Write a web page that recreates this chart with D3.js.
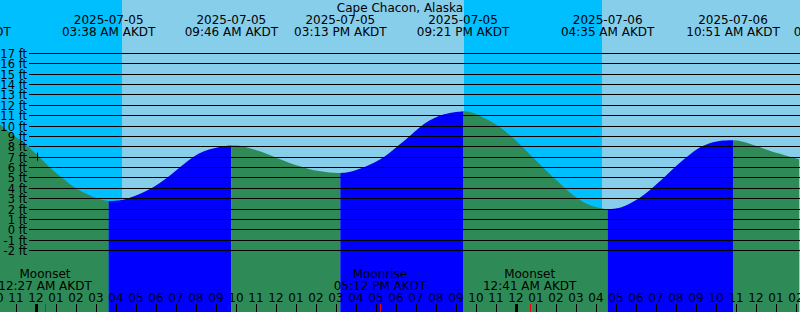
<!DOCTYPE html>
<html>
<head>
<meta charset="utf-8">
<script src="https://cdn.jsdelivr.net/npm/d3@7"></script>
<style>
  body { margin: 0; background: #fff; }
  svg { display: block; font-family: "DejaVu Sans", sans-serif; font-size: 12px; }
  .feet { font-size: 11.5px; }
</style>
</head>
<body>
<svg class="svg-tide"></svg>
<script>
// hours are counted from 2025-07-05 00:00 AKDT
const title = "Cape Chacon, Alaska"

// water level (hour, feet)
const tideHours = [-1.85, -1.35, -0.85, -0.35, 0.15, 0.65, 1.15, 1.65, 2.15, 2.65, 3.15, 3.633, 4.15, 4.65, 5.15, 5.65,
  6.15, 6.65, 7.15, 7.65, 8.15, 8.65, 9.15, 9.767, 10.15, 10.65, 11.15, 11.65, 12.15, 12.65, 13.15, 13.65, 14.15, 14.65,
  15.217, 15.65, 16.15, 16.65, 17.15, 17.65, 18.15, 18.65, 19.15, 19.65, 20.15, 20.65, 21.35, 21.65, 22.15, 22.65,
  23.15, 23.65, 24.15, 24.65, 25.15, 25.65, 26.15, 26.65, 27.15, 27.65, 28.15, 28.583, 29.15, 29.65, 30.15, 30.65,
  31.15, 31.65, 32.15, 32.65, 33.15, 33.65, 34.15, 34.85, 35.15, 35.65, 36.15, 36.65, 37.15, 37.65, 38.15]
const tideFeet = [10.2, 9.4, 8.7, 7.95, 7.0, 6.0, 5.2, 4.4, 3.75, 3.3, 2.87, 2.7, 2.72, 3.0, 3.35, 3.8,
  4.4, 5.1, 5.9, 6.7, 7.35, 7.7, 7.95, 8.1, 8.08, 7.85, 7.55, 7.2, 6.8, 6.4, 6.1, 5.8, 5.6, 5.45,
  5.4, 5.5, 5.8, 6.2, 6.65, 7.3, 8.15, 8.9, 9.8, 10.5, 10.95, 11.25, 11.4, 11.35, 11.0, 10.5,
  9.95, 9.15, 8.3, 7.3, 6.35, 5.4, 4.5, 3.6, 2.87, 2.3, 2.05, 1.9, 2.0, 2.4, 2.95, 3.7,
  4.55, 5.45, 6.35, 7.15, 7.9, 8.3, 8.55, 8.6, 8.55, 8.3, 7.95, 7.6, 7.3, 7.0, 6.75]

// high / low tides
const extremeHours = [-3.57, 3.633, 9.767, 15.217, 21.35, 28.583, 34.85, 40.2]
const extremeKinds = ["high", "low", "high", "low", "high", "low", "high", "low"]
const extremeDates = ["2025-07-04", "2025-07-05", "2025-07-05", "2025-07-05", "2025-07-05", "2025-07-06", "2025-07-06", "2025-07-06"]
const extremeTimes = ["08:26 PM AKDT", "03:38 AM AKDT", "09:46 AM AKDT", "03:13 PM AKDT", "09:21 PM AKDT", "04:35 AM AKDT", "10:51 AM AKDT", "04:12 PM AKDT"]

// night spans (sunset -> sunrise)
const nightStart = [-3, 21.4]
const nightEnd = [4.3, 28.3]

// moon events
const moonHours = [0.45, 17.2, 24.683]
const moonNames = ["Moonset", "Moonrise", "Moonset"]
const moonTimes = ["12:27 AM AKDT", "05:12 PM AKDT", "12:41 AM AKDT"]

const feetTicks = d3.range(-2, 18)
const hourTicks = d3.range(-2, 39)
const midnights = [0, 24]
const markHour = 0.05, markFeet = 7

const width = 800, height = 312
const svg = d3.select('.svg-tide').attr('width', width).attr('height', height)

const x = d3.scaleLinear().domain([0, 1]).range([36, 56])
const y = d3.scaleLinear().domain([-2, 17]).range([250, 53])

// sky
svg.append('rect').attr('width', width).attr('height', height).attr('fill', '#87ceeb')
svg.append('g').selectAll('rect')
  .data(nightStart)
  .join('rect')
  .attr('x', d => x(d))
  .attr('width', (d, i) => x(nightEnd[i]) - x(d))
  .attr('y', 0).attr('height', height)
  .attr('fill', '#00bfff')
  .attr('shape-rendering', 'crispEdges')

// water
const tide = tideHours.map((h, i) => ({ h: h, v: tideFeet[i] }))
const area = d3.area()
  .x(d => x(d.h))
  .y0(height)
  .y1(d => y(d.v))
  .curve(d3.curveBasis)

svg.append('clipPath').attr('id', 'water')
  .append('path').attr('d', area(tide))

svg.append('g').attr('clip-path', 'url(#water)')
  .selectAll('rect')
  .data(extremeHours.slice(0, -1))
  .join('rect')
  .attr('x', d => x(d))
  .attr('width', (d, i) => x(extremeHours[i + 1]) - x(d))
  .attr('y', 0).attr('height', height)
  .attr('fill', (d, i) => extremeKinds[i] == "low" ? '#0000ff' : '#2e8b57')

// foot lines
svg.append('g').selectAll('line')
  .data(feetTicks)
  .join('line')
  .attr('x1', 29).attr('x2', width)
  .attr('y1', d => Math.round(y(d)) + 0.5)
  .attr('y2', d => Math.round(y(d)) + 0.5)
  .attr('stroke', 'black')
  .attr('stroke-width', 1)
svg.append('g').attr('class', 'feet').selectAll('text')
  .data(feetTicks)
  .join('text')
  .attr('x', 27)
  .attr('y', d => Math.round(y(d)) + 4.5)
  .attr('text-anchor', 'end')
  .text(d => d + " ft")

// little mark
svg.append('line')
  .attr('x1', Math.round(x(markHour)) + 0.5).attr('x2', Math.round(x(markHour)) + 0.5)
  .attr('y1', y(markFeet) - 4).attr('y2', y(markFeet) + 4)
  .attr('stroke', 'black')

// title and tide labels
svg.append('text').attr('x', width / 2).attr('y', 12)
  .attr('text-anchor', 'middle').text(title)
const ext = svg.append('g').selectAll('g')
  .data(extremeHours)
  .join('g')
  .attr('transform', d => 'translate(' + x(d) + ',0)')
ext.append('text').attr('y', 24).attr('text-anchor', 'middle').text((d, i) => extremeDates[i])
ext.append('text').attr('y', 36).attr('text-anchor', 'middle').text((d, i) => extremeTimes[i])

// moon labels
const moon = svg.append('g').selectAll('g')
  .data(moonHours)
  .join('g')
  .attr('transform', d => 'translate(' + x(d) + ',0)')
moon.append('text').attr('y', 278).attr('text-anchor', 'middle').text((d, i) => moonNames[i])
moon.append('text').attr('y', 290).attr('text-anchor', 'middle').text((d, i) => moonTimes[i])

// hour axis
const hourLabel = h => {
  let hh = ((h % 12) + 12) % 12
  if (hh == 0) hh = 12
  return d3.format("02")(hh)
}
svg.append('g').selectAll('text')
  .data(hourTicks)
  .join('text')
  .attr('x', d => x(d))
  .attr('y', 302)
  .attr('text-anchor', 'middle')
  .text(hourLabel)
svg.append('g').selectAll('line')
  .data(hourTicks)
  .join('line')
  .attr('x1', d => Math.round(x(d)) + 0.5).attr('x2', d => Math.round(x(d)) + 0.5)
  .attr('y1', 304).attr('y2', height)
  .attr('stroke', 'black')
svg.append('g').selectAll('rect')
  .data(midnights)
  .join('rect')
  .attr('x', d => Math.round(x(d)) - 1).attr('width', 3)
  .attr('y', 304).attr('height', height - 304)
  .attr('fill', 'black')
svg.append('g').selectAll('line')
  .data(moonHours)
  .join('line')
  .attr('x1', d => Math.round(x(d)) + 0.5).attr('x2', d => Math.round(x(d)) + 0.5)
  .attr('y1', 304).attr('y2', height)
  .attr('stroke', 'red')
</script>
</body>
</html>
